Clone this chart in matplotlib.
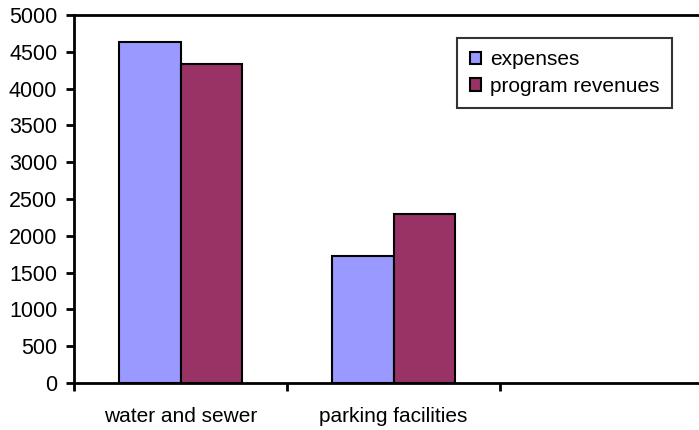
import matplotlib.pyplot as plt
import numpy as np

plt.rcParams['font.family'] = ['Liberation Sans', 'DejaVu Sans']

categories = ["water and sewer", "parking facilities", ""]
expenses = [4635, 1730, 0]
program_revenues = [4340, 2300, 0]
series_names = ["expenses", "program revenues"]

fig = plt.figure(figsize=(6.99, 4.30), dpi=100)
# axes run past the right edge of the figure, like the original sheet
ax = fig.add_axes([74 / 699, 47 / 430, 639 / 699, 368 / 430])

x = np.arange(len(categories))
w = 0.29
ax.bar(x[:2] - w / 2, expenses[:2], w, color="#9999FF", edgecolor="black", linewidth=1.5,
       label=series_names[0])
ax.bar(x[:2] + w / 2, program_revenues[:2], w, color="#993366", edgecolor="black", linewidth=1.5,
       label=series_names[1])

ax.set_xlim(-0.5, 2.5)
ax.set_ylim(0, 5000)
ax.set_yticks(range(0, 5001, 500))
ax.set_xticks(np.arange(-0.5, 2.6, 1))
ax.set_xticklabels([])
ax.set_xticks(x, categories, minor=True)
ax.tick_params(axis="x", which="minor", length=0, pad=17, labelsize=15)
ax.tick_params(axis="x", which="major", length=6, width=2, direction="out")
ax.tick_params(axis="y", length=6, width=2, direction="out", labelsize=15.5, pad=6)

ax.spines["right"].set_visible(False)
for s in ["left", "bottom", "top"]:
    ax.spines[s].set_linewidth(2)

leg = ax.legend(loc="upper left", bbox_to_anchor=((457 - 74) / 639, (383 - 38) / 368),
                fontsize=15, frameon=True, fancybox=False, handlelength=0.53,
                handleheight=0.53, handletextpad=0.45, borderpad=0.6, labelspacing=0.35,
                borderaxespad=0)
leg.get_frame().set_edgecolor("black")
leg.get_frame().set_linewidth(1.5)

fig.savefig("out.png", dpi=100)
